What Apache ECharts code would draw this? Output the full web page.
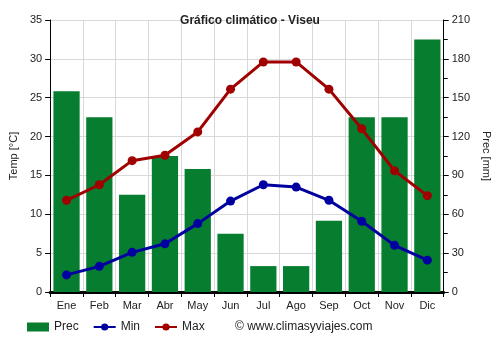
<!DOCTYPE html>
<html>
<head>
<meta charset="utf-8">
<script src="https://cdn.jsdelivr.net/npm/echarts@6/dist/echarts.min.js"></script>
<style>
html,body{margin:0;padding:0;background:#fff;}
#chart{width:500px;height:350px;}
</style>
</head>
<body>
<div id="chart"></div>
<script>
const months = ['Ene','Feb','Mar','Abr','May','Jun','Jul','Ago','Sep','Oct','Nov','Dic'];
const prec = [155, 135, 75, 105, 95, 45, 20, 20, 55, 135, 135, 195];
const tMin = [2.2, 3.3, 5.1, 6.2, 8.8, 11.7, 13.8, 13.5, 11.8, 9.1, 6.0, 4.1];
const tMax = [11.8, 13.8, 16.9, 17.6, 20.6, 26.1, 29.6, 29.6, 26.1, 21.0, 15.6, 12.4];

const font = 'Liberation Sans, Arial, sans-serif';
const chart = echarts.init(document.getElementById('chart'));
chart.setOption({
  animation: false,
  title: {
    text: 'Gráfico climático - Viseu',
    left: 'center', top: 10,
    textStyle: {fontFamily: font, fontSize: 12, fontWeight: 'bold', color: '#222'}
  },
  grid: {left: 49, right: 54, top: 20, bottom: 58},
  legend: {
    left: 22, bottom: 12, itemGap: 14, itemWidth: 22, itemHeight: 9,
    textStyle: {fontFamily: font, fontSize: 12, color: '#222'},
    data: [
      {name: 'Prec', icon: 'rect'},
      {name: 'Min'},
      {name: 'Max'}
    ]
  },
  graphic: [{
    type: 'text', left: 235, bottom: 17,
    style: {text: '© www.climasyviajes.com', font: '12px ' + font, fill: '#222'}
  }],
  xAxis: {
    type: 'category', data: months,
    axisLine: {lineStyle: {color: '#000', width: 3}},
    axisTick: {show: true, alignWithLabel: false, lineStyle: {color: '#000'}},
    axisLabel: {fontFamily: font, fontSize: 11, color: '#222'},
    splitLine: {show: true, lineStyle: {color: '#d9d9d9'}}
  },
  yAxis: [{
    type: 'value', min: 0, max: 35, interval: 5,
    name: 'Temp [°C]', nameLocation: 'middle', nameGap: 28, nameRotate: 90,
    nameTextStyle: {fontFamily: font, fontSize: 11, color: '#222'},
    axisLine: {show: true, lineStyle: {color: '#000'}},
    axisTick: {show: true, lineStyle: {color: '#000'}},
    axisLabel: {fontFamily: font, fontSize: 11, color: '#222'},
    splitLine: {show: true, lineStyle: {color: '#d9d9d9'}}
  }, {
    type: 'value', min: 0, max: 210, interval: 30,
    name: 'Prec [mm]', nameLocation: 'middle', nameGap: 32, nameRotate: -90,
    nameTextStyle: {fontFamily: font, fontSize: 11, color: '#222'},
    axisLine: {show: true, lineStyle: {color: '#000'}},
    axisTick: {show: true, lineStyle: {color: '#000'}},
    minorTick: {show: true, splitNumber: 2, length: 4, lineStyle: {color: '#000'}},
    axisLabel: {fontFamily: font, fontSize: 11, color: '#222'},
    splitLine: {show: false}
  }],
  series: [{
    name: 'Prec', type: 'bar', yAxisIndex: 1, data: prec,
    barWidth: '80%', itemStyle: {color: '#067d2f'}
  }, {
    name: 'Min', type: 'line', data: tMin,
    symbol: 'circle', symbolSize: 9,
    lineStyle: {color: '#0000a0', width: 3}, itemStyle: {color: '#0000a0'}
  }, {
    name: 'Max', type: 'line', data: tMax,
    symbol: 'circle', symbolSize: 9,
    lineStyle: {color: '#a00000', width: 3}, itemStyle: {color: '#a00000'}
  }]
});
</script>
</body>
</html>
